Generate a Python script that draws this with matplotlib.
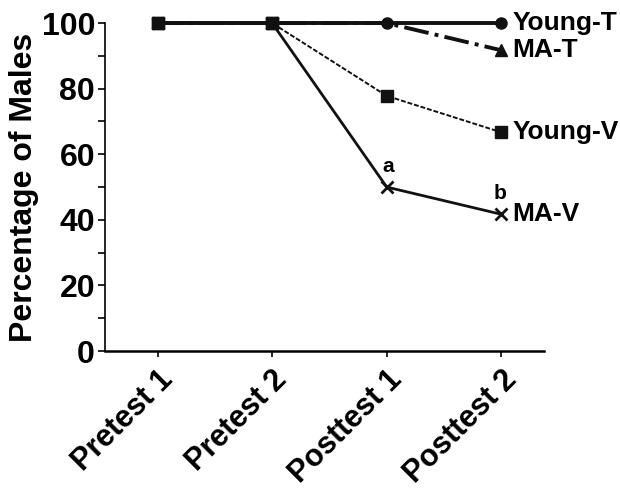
import matplotlib.pyplot as plt
from matplotlib.ticker import MultipleLocator

plt.rcParams['font.family'] = ['Liberation Sans', 'DejaVu Sans']
plt.rcParams['font.weight'] = 'bold'

# Data
sessions = ['Pretest 1', 'Pretest 2', 'Posttest 1', 'Posttest 2']
young_t = [100, 100, 100, 100]
ma_t = [100, 100, 100, 91.7]
young_v = [100, 100, 77.8, 66.7]
ma_v = [100, 100, 50, 41.7]
series_names = ['Young-T', 'MA-T', 'Young-V', 'MA-V']

fig = plt.figure(figsize=(6.2, 4.91), dpi=100)
ax = fig.add_axes([0.169, 0.285, 0.708, 0.668])
x = range(len(sessions))

ax.plot(x, ma_v, '-', color='#111111', lw=2, marker='x', ms=8, mew=2, clip_on=False, zorder=3)
ax.plot(x, young_v, '--', color='#111111', lw=1.4, dashes=(2.5, 1), marker='s', ms=8, clip_on=False, zorder=4)
ax.plot(x, ma_t, '-.', color='#111111', lw=2.8, marker='^', ms=8, markevery=[3], clip_on=False, zorder=3)
ax.plot(x, young_t, '-', color='#111111', lw=2.8, marker='o', ms=8, clip_on=False, zorder=5)
# squares on top at pretest points
ax.plot(x[:2], young_v[:2], 's', color='#111111', ms=8, clip_on=False, zorder=6)

# end labels
for name, vals in zip(series_names, [young_t, ma_t, young_v, ma_v]):
    ax.annotate(name, (3, vals[-1]), xytext=(8, 0), textcoords='offset points',
                ha='left', va='center', fontsize=19, fontweight='bold', annotation_clip=False)

ax.annotate('a', (2, ma_v[2]), xytext=(1, 8), textcoords='offset points',
            ha='center', va='bottom', fontsize=15, fontweight='bold')
ax.annotate('b', (3, ma_v[3]), xytext=(-1, 8), textcoords='offset points',
            ha='center', va='bottom', fontsize=15, fontweight='bold')

ax.set_xlim(-0.46, 3.37)
ax.set_ylim(0, 100)
ax.yaxis.set_major_locator(MultipleLocator(20))
ax.yaxis.set_minor_locator(MultipleLocator(10))
ax.set_xticks(list(x))
ax.set_xticklabels(sessions, rotation=45, ha='right', rotation_mode='anchor', fontsize=22, fontweight='bold')
ax.tick_params(axis='y', which='both', length=5, width=1.2, labelsize=23, pad=2)
ax.tick_params(axis='x', length=4, width=1.2, pad=6)
for lbl in ax.get_yticklabels():
    lbl.set_fontweight('bold')

ax.spines['top'].set_visible(False)
ax.spines['right'].set_visible(False)
ax.spines['left'].set_linewidth(1.2)
ax.spines['bottom'].set_linewidth(1.8)

ax.set_ylabel('Percentage of Males', fontsize=23, fontweight='bold')
ax.yaxis.set_label_coords(-0.15, 0.5)

fig.savefig('out.png', dpi=100)
